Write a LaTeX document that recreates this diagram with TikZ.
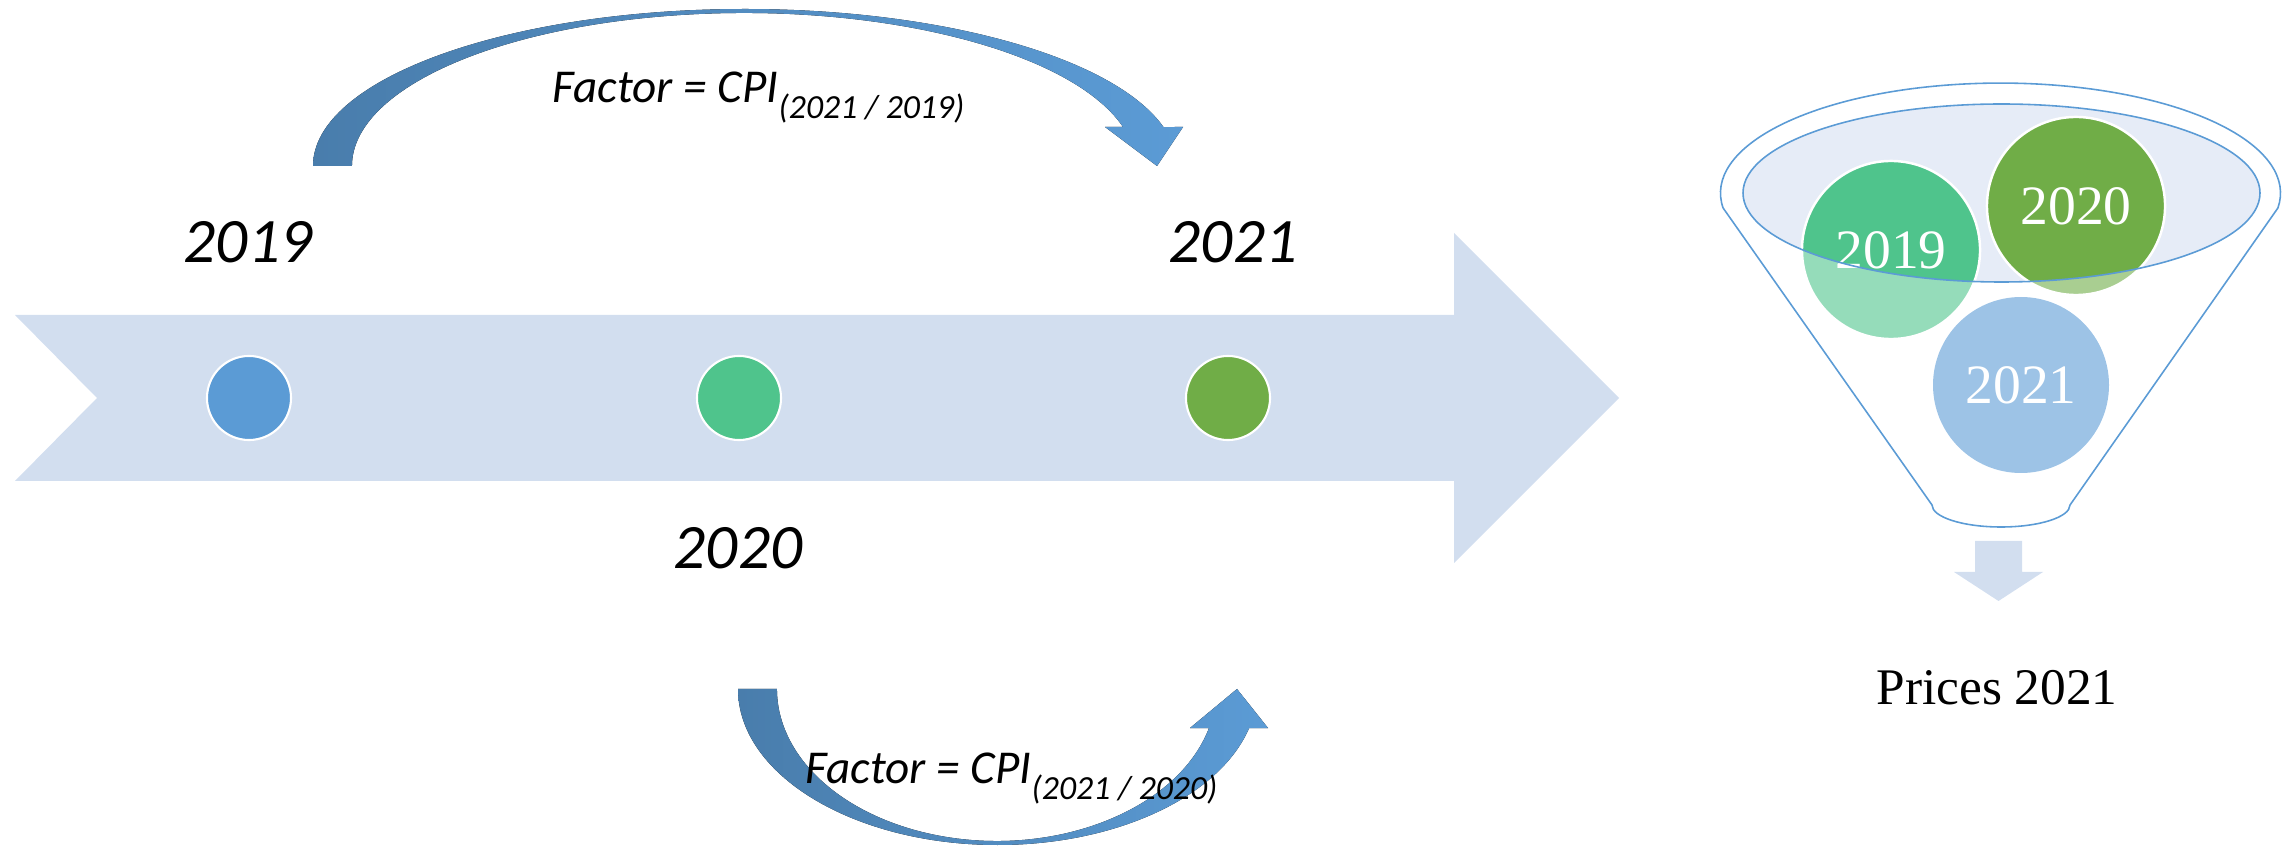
\documentclass[tikz,border=0pt]{standalone}
\usepackage{fontspec}
\usepackage{xcolor}
\usepackage{tikz}
\newfontfamily\carlito{Carlito}
\newfontfamily\libserif{Liberation Serif}
\definecolor{bandblue}{RGB}{210,222,239}
\definecolor{dotblue}{RGB}{91,155,213}
\definecolor{dotteal}{RGB}{79,196,140}
\definecolor{dotgreen}{RGB}{112,173,71}
\definecolor{curvedark}{RGB}{73,125,172}
\definecolor{funnelfill}{RGB}{230,236,247}
\newcommand{\yearfont}{\carlito\itshape\fontsize{18}{20}\selectfont}
\newcommand{\factorfont}{\carlito\itshape\fontsize{13.4}{15}\selectfont}
\newcommand{\subyears}[1]{\raisebox{-4.4pt}{\fontsize{9.6}{10}\selectfont(#1)}}

\begin{document}
\begin{tikzpicture}[x=0.01cm, y=-0.01cm,
    yearlabel/.style={anchor=base, inner sep=0pt, font=\yearfont},
    factorlabel/.style={anchor=base west, inner sep=0pt, font=\factorfont},
    yeardot/.style={circle, draw=white, line width=0.6pt, minimum size=0.84cm, inner sep=0pt},
    ballnum/.style={circle, draw=white, line width=0.7pt, minimum size=1.78cm, inner sep=0pt, text=white, font=\libserif\fontsize{15.8}{18}\selectfont},
    funnelline/.style={draw=dotblue, line width=0.45pt}]
    \useasboundingbox (0,0) rectangle (2290,846);

    % Timeline arrow
    \fill[bandblue] (15,315) -- (1454,315) -- (1454,233) -- (1619,398) -- (1454,563)
        -- (1454,481) -- (15,481) -- (97,398) -- cycle;
    \node[yeardot, fill=dotblue] (d19) at (249,398) {};
    \node[yeardot, fill=dotteal] (d20) at (739,398) {};
    \node[yeardot, fill=dotgreen] (d21) at (1228,398) {};

    \node[yearlabel] (y19) at (248,263) {2019};
    \node[yearlabel] (y21) at (1233,263) {2021};
    \node[yearlabel] (y20) at (738,569) {2020};

    % Upper curved arrow
    \fill[left color=curvedark, right color=dotblue]
        (313,166) arc[start angle=180, end angle=345.62, x radius=432, y radius=157]
        -- (1183,127) -- (1157,166) -- (1105,127) -- (1123,127)
        arc[start angle=345.23, end angle=180, x radius=392, y radius=153] -- cycle;
    \node[factorlabel] (f19) at (552,103) {Factor = CPI\subyears{2021 / 2019}};

    % Lower curved arrow
    \fill[left color=curvedark, right color=dotblue]
        (738,689) arc[start angle=180, end angle=14.48, x radius=259.7, y radius=156]
        -- (1268,728) -- (1237,689) -- (1190,728) -- (1209,728)
        arc[start angle=14.87, end angle=180, x radius=219.7, y radius=152] -- cycle;
    \node[factorlabel] (f20) at (805,784) {Factor = CPI\subyears{2021 / 2020}};

    % Funnel
    \draw[funnelline] (1723.1,208) arc[start angle=172.2, end angle=367.8, x radius=280, y radius=110]
        -- (2070,505) arc[start angle=0, end angle=180, x radius=69, y radius=22] -- cycle;
    \fill[funnelfill] (2001.5,193) ellipse [x radius=258.5, y radius=89];

    \fill[dotteal, fill opacity=0.6] (1891,250) circle (89);
    \fill[dotgreen, fill opacity=0.6] (2076,206) circle (89);
    \fill[dotblue, fill opacity=0.6] (2021,385) circle (88);
    \begin{scope}
        \clip (2001.5,193) ellipse [x radius=258.5, y radius=89];
        \fill[dotteal] (1891,250) circle (89);
        \fill[dotgreen] (2076,206) circle (89);
    \end{scope}

    \node[ballnum] (b19) at (1891,250) {2019};
    \node[ballnum] (b20) at (2076,206) {2020};
    \node[ballnum, draw=none] (b21) at (2021,385) {2021};
    \draw[funnelline] (2001.5,193) ellipse [x radius=258.5, y radius=89];

    % Output arrow
    \fill[bandblue] (1975,541) -- (2022,541) -- (2022,572) -- (2043,572) -- (1998.5,601)
        -- (1954,572) -- (1975,572) -- cycle;
    \node[anchor=base, inner sep=0pt, font=\libserif\fontsize{14.6}{16}\selectfont] (prices) at (1997,705) {Prices 2021};
\end{tikzpicture}
\end{document}
